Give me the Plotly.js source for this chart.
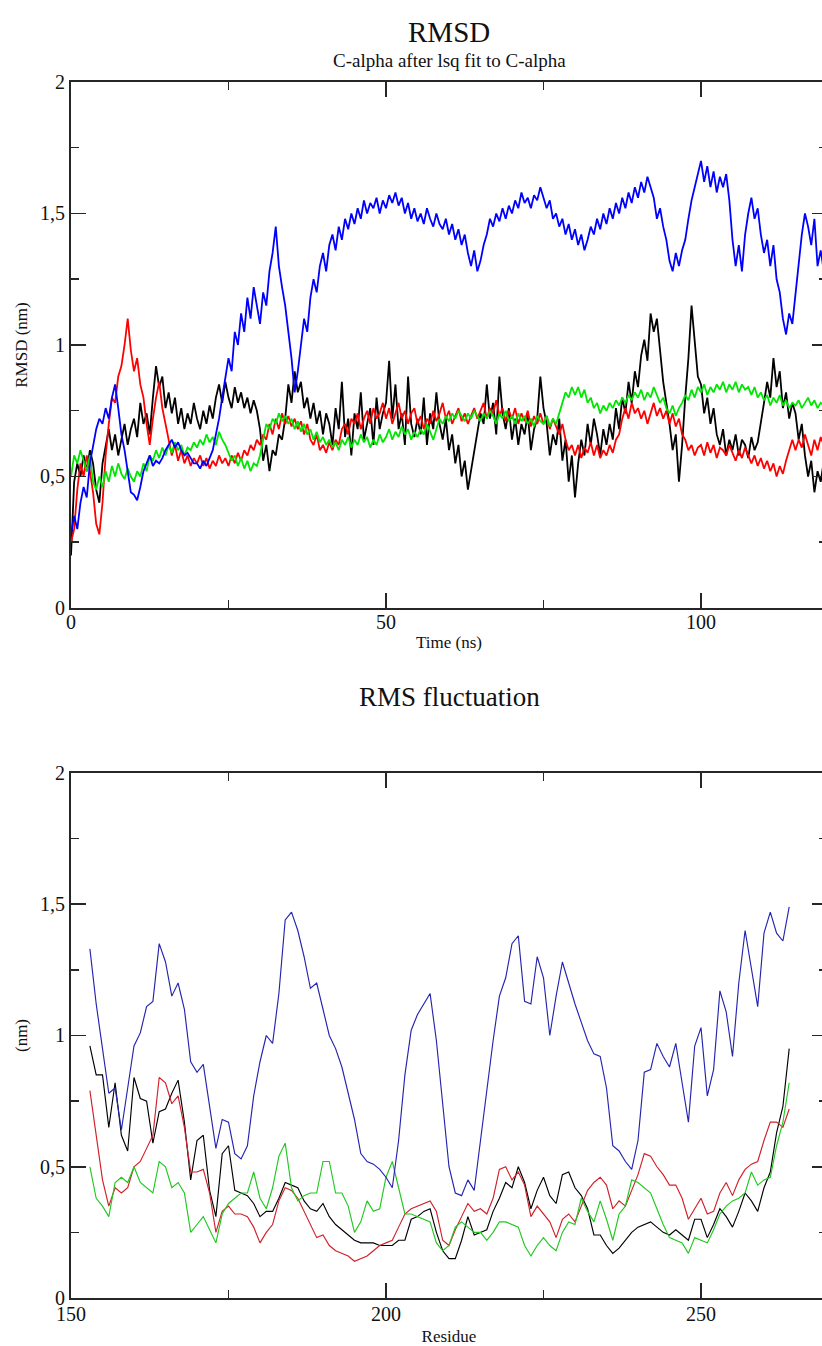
<!DOCTYPE html>
<html><head><meta charset="utf-8">
<script src="https://cdn.plot.ly/plotly-3.0.1.min.js"></script>
<style>html,body{margin:0;padding:0;overflow:hidden;background:#fff}#chart{width:830px;height:1346px}</style>
</head><body><div id="chart"></div><script>
// ---- RMSD vs time (ns), sampled every 0.5 ns from 0 to 120 ----
const TIME_START = 0, TIME_STEP = 0.5;
const rmsdBlack = [0.20,0.48,0.55,0.50,0.58,0.52,0.60,0.55,0.45,0.40,
 0.55,0.62,0.68,0.60,0.66,0.58,0.64,0.70,0.62,0.68,
 0.72,0.65,0.78,0.70,0.74,0.66,0.80,0.92,0.84,0.88,
 0.76,0.82,0.74,0.80,0.70,0.76,0.68,0.74,0.70,0.78,
 0.72,0.68,0.75,0.70,0.77,0.72,0.80,0.85,0.78,0.86,
 0.80,0.76,0.84,0.78,0.82,0.76,0.80,0.74,0.79,0.75,
 0.68,0.56,0.62,0.52,0.60,0.58,0.66,0.64,0.72,0.85,
 0.78,0.90,0.82,0.86,0.76,0.80,0.72,0.78,0.70,0.75,
 0.66,0.74,0.70,0.62,0.76,0.68,0.86,0.65,0.72,0.58,
 0.74,0.68,0.82,0.64,0.70,0.76,0.62,0.80,0.68,0.74,
 0.78,0.94,0.72,0.85,0.68,0.74,0.62,0.88,0.70,0.65,
 0.72,0.66,0.80,0.62,0.74,0.68,0.82,0.70,0.64,0.72,
 0.60,0.66,0.55,0.62,0.50,0.56,0.45,0.52,0.60,0.66,
 0.74,0.70,0.85,0.72,0.78,0.66,0.88,0.74,0.68,0.76,
 0.64,0.72,0.62,0.70,0.66,0.74,0.60,0.68,0.72,0.88,
 0.76,0.70,0.58,0.66,0.62,0.72,0.56,0.64,0.48,0.58,
 0.42,0.55,0.64,0.58,0.70,0.62,0.72,0.66,0.58,0.68,
 0.62,0.70,0.64,0.76,0.68,0.80,0.74,0.86,0.78,0.90,
 0.84,0.96,1.02,0.94,1.12,1.05,1.10,0.98,0.86,0.78,
 0.70,0.60,0.66,0.48,0.62,0.80,0.95,1.15,1.02,0.88,
 0.85,0.74,0.80,0.70,0.76,0.66,0.62,0.68,0.58,0.64,
 0.60,0.66,0.58,0.64,0.62,0.57,0.65,0.60,0.63,0.70,
 0.78,0.86,0.80,0.95,0.84,0.90,0.76,0.82,0.72,0.78,
 0.74,0.64,0.70,0.58,0.50,0.56,0.44,0.52,0.48,0.56,
 0.52];
const rmsdRed = [0.25,0.30,0.45,0.55,0.50,0.58,0.52,0.44,0.32,0.28,
 0.40,0.58,0.70,0.80,0.78,0.88,0.92,1.00,1.10,0.98,
 0.90,0.95,0.85,0.80,0.70,0.62,0.72,0.80,0.86,0.76,
 0.70,0.64,0.58,0.62,0.56,0.60,0.55,0.58,0.54,0.57,
 0.55,0.58,0.54,0.57,0.53,0.56,0.54,0.58,0.55,0.57,
 0.54,0.58,0.55,0.59,0.56,0.60,0.58,0.62,0.60,0.64,
 0.62,0.66,0.64,0.70,0.66,0.72,0.68,0.74,0.70,0.73,
 0.69,0.72,0.68,0.71,0.66,0.70,0.64,0.62,0.66,0.60,
 0.62,0.59,0.63,0.60,0.64,0.62,0.68,0.70,0.66,0.72,
 0.70,0.74,0.68,0.72,0.75,0.70,0.76,0.72,0.74,0.78,
 0.72,0.76,0.70,0.74,0.78,0.72,0.75,0.70,0.74,0.76,
 0.70,0.73,0.68,0.72,0.70,0.75,0.71,0.74,0.78,0.72,
 0.75,0.70,0.73,0.76,0.71,0.74,0.70,0.73,0.76,0.72,
 0.75,0.78,0.72,0.76,0.74,0.79,0.73,0.76,0.71,0.75,
 0.72,0.76,0.70,0.74,0.71,0.75,0.69,0.73,0.70,0.74,
 0.70,0.73,0.68,0.72,0.69,0.66,0.70,0.64,0.60,0.62,
 0.58,0.62,0.57,0.61,0.59,0.63,0.58,0.62,0.57,0.60,
 0.58,0.62,0.59,0.64,0.66,0.72,0.76,0.72,0.78,0.74,
 0.76,0.72,0.75,0.70,0.74,0.78,0.73,0.76,0.72,0.75,
 0.70,0.74,0.69,0.72,0.66,0.64,0.60,0.62,0.58,0.61,
 0.62,0.58,0.63,0.59,0.62,0.57,0.61,0.60,0.58,0.62,
 0.59,0.56,0.60,0.57,0.61,0.58,0.55,0.58,0.54,0.57,
 0.53,0.56,0.52,0.55,0.50,0.54,0.51,0.56,0.60,0.64,
 0.60,0.64,0.61,0.66,0.62,0.58,0.64,0.60,0.65,0.62,
 0.64];
const rmsdGreen = [0.50,0.58,0.55,0.60,0.56,0.52,0.58,0.48,0.45,0.50,
 0.46,0.52,0.48,0.54,0.50,0.55,0.51,0.49,0.53,0.50,
 0.48,0.52,0.50,0.55,0.52,0.58,0.56,0.60,0.57,0.61,
 0.58,0.62,0.59,0.63,0.60,0.62,0.58,0.61,0.60,0.63,
 0.61,0.64,0.62,0.66,0.63,0.65,0.62,0.67,0.64,0.62,
 0.59,0.56,0.58,0.54,0.57,0.53,0.56,0.52,0.55,0.54,
 0.58,0.64,0.70,0.68,0.72,0.70,0.74,0.71,0.73,0.70,
 0.72,0.68,0.71,0.67,0.70,0.66,0.68,0.64,0.67,0.63,
 0.65,0.62,0.64,0.61,0.63,0.60,0.64,0.62,0.65,0.61,
 0.64,0.62,0.66,0.63,0.65,0.61,0.64,0.62,0.66,0.63,
 0.65,0.68,0.64,0.67,0.65,0.69,0.66,0.68,0.64,0.67,
 0.65,0.68,0.66,0.70,0.67,0.64,0.68,0.72,0.70,0.73,
 0.71,0.74,0.72,0.75,0.73,0.71,0.74,0.72,0.75,0.73,
 0.71,0.74,0.72,0.75,0.73,0.70,0.74,0.72,0.75,0.71,
 0.73,0.70,0.74,0.71,0.73,0.70,0.72,0.69,0.73,0.71,
 0.70,0.73,0.69,0.72,0.70,0.74,0.78,0.82,0.80,0.84,
 0.81,0.84,0.80,0.83,0.78,0.80,0.76,0.78,0.74,0.77,
 0.75,0.78,0.76,0.79,0.77,0.80,0.78,0.81,0.79,0.82,
 0.80,0.83,0.79,0.82,0.80,0.84,0.81,0.78,0.80,0.76,
 0.74,0.77,0.73,0.76,0.78,0.81,0.79,0.83,0.80,0.84,
 0.82,0.85,0.81,0.84,0.82,0.85,0.83,0.86,0.82,0.85,
 0.83,0.86,0.82,0.85,0.83,0.84,0.81,0.84,0.80,0.82,
 0.79,0.81,0.77,0.80,0.78,0.81,0.77,0.79,0.76,0.78,
 0.77,0.79,0.76,0.78,0.80,0.77,0.79,0.76,0.78,0.77,
 0.78];
const rmsdBlue = [0.28,0.35,0.30,0.40,0.46,0.42,0.55,0.62,0.68,0.72,
 0.70,0.76,0.72,0.80,0.85,0.76,0.66,0.60,0.52,0.44,
 0.43,0.41,0.46,0.52,0.55,0.58,0.54,0.56,0.55,0.57,
 0.60,0.62,0.64,0.61,0.63,0.60,0.58,0.59,0.57,0.55,
 0.55,0.53,0.56,0.54,0.57,0.60,0.66,0.72,0.80,0.88,
 0.95,0.90,1.05,1.00,1.12,1.05,1.18,1.10,1.22,1.15,
 1.08,1.20,1.15,1.28,1.35,1.45,1.30,1.22,1.15,1.05,
 0.95,0.82,0.90,1.00,1.10,1.05,1.18,1.25,1.20,1.30,
 1.35,1.28,1.38,1.42,1.36,1.45,1.40,1.48,1.44,1.50,
 1.46,1.52,1.48,1.55,1.50,1.54,1.52,1.56,1.50,1.55,
 1.52,1.57,1.54,1.58,1.53,1.56,1.50,1.54,1.48,1.52,
 1.47,1.50,1.46,1.52,1.48,1.45,1.50,1.46,1.44,1.48,
 1.42,1.46,1.40,1.44,1.38,1.42,1.35,1.30,1.36,1.28,
 1.32,1.38,1.42,1.48,1.45,1.50,1.47,1.52,1.48,1.53,
 1.50,1.55,1.52,1.58,1.54,1.56,1.52,1.57,1.55,1.60,
 1.56,1.52,1.55,1.48,1.50,1.45,1.48,1.42,1.46,1.40,
 1.44,1.38,1.42,1.36,1.40,1.45,1.42,1.48,1.44,1.50,
 1.46,1.52,1.48,1.54,1.50,1.56,1.52,1.58,1.54,1.60,
 1.56,1.62,1.58,1.64,1.60,1.56,1.48,1.52,1.45,1.40,
 1.32,1.28,1.35,1.30,1.36,1.40,1.48,1.55,1.60,1.65,
 1.70,1.62,1.68,1.60,1.66,1.58,1.64,1.60,1.65,1.55,
 1.40,1.30,1.38,1.28,1.42,1.50,1.56,1.48,1.52,1.42,
 1.35,1.40,1.30,1.38,1.25,1.20,1.10,1.04,1.12,1.08,
 1.20,1.30,1.42,1.50,1.45,1.38,1.48,1.30,1.36,1.28,
 1.32];

// ---- RMS fluctuation per residue, residues 153 .. 264 ----
const RESIDUE_START = 153;
const rmsfBlack = [0.96,0.85,0.85,0.65,0.82,0.62,0.56,0.84,0.76,0.75,
 0.59,0.71,0.72,0.78,0.83,0.67,0.45,0.60,0.62,0.41,
 0.31,0.55,0.58,0.41,0.40,0.39,0.36,0.31,0.33,0.33,
 0.38,0.44,0.43,0.42,0.37,0.34,0.33,0.36,0.31,0.28,
 0.26,0.24,0.22,0.21,0.21,0.21,0.20,0.20,0.20,0.22,
 0.22,0.30,0.31,0.33,0.34,0.25,0.18,0.15,0.15,0.22,
 0.31,0.24,0.25,0.26,0.33,0.38,0.44,0.42,0.50,0.44,
 0.34,0.41,0.46,0.39,0.36,0.47,0.48,0.42,0.39,0.34,
 0.24,0.24,0.20,0.17,0.19,0.22,0.25,0.27,0.28,0.29,
 0.27,0.25,0.24,0.26,0.24,0.22,0.30,0.30,0.23,0.28,
 0.34,0.31,0.27,0.33,0.40,0.37,0.33,0.42,0.48,0.63,
 0.73,0.95];
const rmsfRed = [0.79,0.62,0.45,0.35,0.42,0.40,0.42,0.50,0.52,0.57,
 0.62,0.84,0.82,0.74,0.77,0.65,0.48,0.48,0.49,0.40,
 0.25,0.33,0.35,0.32,0.32,0.31,0.27,0.21,0.25,0.28,
 0.37,0.42,0.41,0.38,0.33,0.28,0.23,0.24,0.20,0.18,
 0.17,0.16,0.14,0.15,0.16,0.18,0.20,0.21,0.22,0.27,
 0.32,0.34,0.35,0.36,0.37,0.33,0.22,0.20,0.26,0.31,
 0.36,0.33,0.34,0.32,0.38,0.49,0.50,0.45,0.48,0.43,
 0.31,0.35,0.32,0.29,0.23,0.30,0.32,0.29,0.35,0.41,
 0.44,0.46,0.43,0.34,0.37,0.35,0.41,0.47,0.55,0.54,
 0.50,0.47,0.43,0.43,0.38,0.30,0.34,0.38,0.32,0.33,
 0.40,0.44,0.39,0.45,0.49,0.51,0.52,0.60,0.67,0.67,
 0.65,0.72];
const rmsfGreen = [0.50,0.38,0.35,0.31,0.44,0.46,0.44,0.50,0.44,0.42,
 0.40,0.52,0.50,0.42,0.44,0.40,0.25,0.28,0.31,0.26,
 0.21,0.32,0.36,0.38,0.40,0.40,0.48,0.38,0.34,0.42,
 0.54,0.59,0.42,0.37,0.39,0.40,0.40,0.52,0.52,0.40,
 0.40,0.35,0.25,0.29,0.37,0.33,0.34,0.46,0.52,0.42,
 0.32,0.32,0.31,0.30,0.29,0.21,0.18,0.20,0.27,0.29,
 0.27,0.25,0.25,0.22,0.25,0.29,0.29,0.28,0.27,0.20,
 0.16,0.20,0.23,0.20,0.18,0.25,0.29,0.28,0.38,0.33,
 0.29,0.37,0.30,0.22,0.32,0.35,0.45,0.44,0.42,0.40,
 0.34,0.28,0.23,0.22,0.21,0.17,0.23,0.22,0.21,0.26,
 0.32,0.35,0.37,0.38,0.40,0.48,0.43,0.45,0.46,0.58,
 0.67,0.82];
const rmsfBlue = [1.33,1.12,0.95,0.78,0.80,0.64,0.80,0.96,1.01,1.11,
 1.13,1.35,1.28,1.15,1.20,1.10,0.90,0.86,0.89,0.72,
 0.57,0.68,0.67,0.55,0.53,0.58,0.77,0.90,1.00,0.97,
 1.16,1.44,1.47,1.40,1.30,1.18,1.20,1.10,1.00,0.95,
 0.88,0.78,0.68,0.55,0.52,0.51,0.49,0.46,0.42,0.60,
 0.85,1.02,1.08,1.12,1.16,0.98,0.75,0.50,0.40,0.39,
 0.45,0.41,0.60,0.80,0.98,1.15,1.22,1.35,1.38,1.13,
 1.12,1.30,1.22,1.00,1.15,1.28,1.20,1.12,1.05,0.98,
 0.93,0.92,0.80,0.58,0.56,0.52,0.49,0.60,0.86,0.87,
 0.97,0.92,0.88,0.97,0.82,0.67,0.96,1.03,0.77,0.87,
 1.17,1.09,0.92,1.20,1.40,1.26,1.11,1.39,1.47,1.39,
 1.36,1.49];

// ---- text ----
const topTitle = 'RMSD';
const topSubtitle = 'C-alpha after lsq fit to C-alpha';
const bottomTitle = 'RMS fluctuation';
const topXTitle = 'Time (ns)', topYTitle = 'RMSD (nm)';
const bottomXTitle = 'Residue', bottomYTitle = '(nm)';

const FONT = '"Liberation Serif", "Times New Roman", Times, serif';
const AX = '#262626';

function tsTrace(y, color, w) {
  return {type:'scatter', mode:'lines', x0:TIME_START, dx:TIME_STEP, y:y,
    xaxis:'x', yaxis:'y', line:{color:color, width:w}, hoverinfo:'skip'};
}
function resTrace(y, color, w) {
  return {type:'scatter', mode:'lines', x0:RESIDUE_START, dx:1, y:y,
    xaxis:'x2', yaxis:'y2', line:{color:color, width:w}, hoverinfo:'skip'};
}
const data = [
  tsTrace(rmsdBlack, '#000000', 1.8),
  tsTrace(rmsdRed, '#ff0000', 1.8),
  tsTrace(rmsdGreen, '#00e600', 1.8),
  tsTrace(rmsdBlue, '#0000ff', 1.8),
  resTrace(rmsfBlack, '#000000', 1.15),
  resTrace(rmsfRed, '#d0202a', 1.15),
  resTrace(rmsfGreen, '#20c820', 1.15),
  resTrace(rmsfBlue, '#2424b0', 1.15)
];

function axis(extra) {
  return Object.assign({
    showline:true, linecolor:AX, linewidth:2, mirror:'allticks',
    ticks:'inside', ticklen:15, tickwidth:1.5, tickcolor:AX,
    showgrid:false, zeroline:false, tickmode:'linear',
    tickfont:{family:FONT, size:20, color:'#111'},
    fixedrange:true
  }, extra);
}
function minor(d) {
  return {dtick:d, ticks:'inside', ticklen:8, tickwidth:1.5, tickcolor:AX, showgrid:false};
}
const titleFont = {family:FONT, size:17, color:'#111'};

const layout = {
  width:830, height:1346,
  margin:{l:71, r:3, t:0, b:0},
  paper_bgcolor:'#fff', plot_bgcolor:'#fff',
  showlegend:false,
  separators:', ',
  font:{family:FONT, color:'#111'},
  xaxis: axis({domain:[0,1], range:[0,120], tick0:0, dtick:50, minor:minor(25), anchor:'y',
    ticklabelstandoff:-5, title:{text:topXTitle, font:titleFont, standoff:4}}),
  yaxis: axis({domain:[0.54829,0.93908], range:[0,2], tick0:0, dtick:0.5, minor:minor(0.25), anchor:'x',
    title:{text:topYTitle, font:titleFont, standoff:8}}),
  xaxis2: axis({domain:[0,1], range:[150,270], tick0:150, dtick:50, minor:minor(25), anchor:'y2',
    ticklabelstandoff:-3, title:{text:bottomXTitle, font:titleFont, standoff:6}}),
  yaxis2: axis({domain:[0.03566,0.42571], range:[0,2], tick0:0, dtick:0.5, minor:minor(0.25), anchor:'x2',
    title:{text:bottomYTitle, font:titleFont, standoff:8}}),
  annotations:[
    {text:topTitle, xref:'paper', yref:'paper', x:0.5, y:(1346-32)/1346, xanchor:'center', yanchor:'middle',
     showarrow:false, font:{family:FONT, size:29, color:'#111'}},
    {text:topSubtitle, xref:'paper', yref:'paper', x:0.5, y:(1346-61)/1346, xanchor:'center', yanchor:'middle',
     showarrow:false, font:{family:FONT, size:19, color:'#111'}},
    {text:bottomTitle, xref:'paper', yref:'paper', x:0.5, y:(1346-697)/1346, xanchor:'center', yanchor:'middle',
     showarrow:false, font:{family:FONT, size:27, color:'#111'}}
  ]
};
Plotly.newPlot('chart', data, layout, {displayModeBar:false, staticPlot:true});
</script></body></html>
